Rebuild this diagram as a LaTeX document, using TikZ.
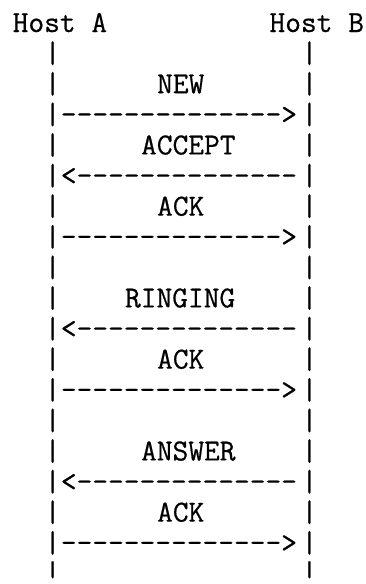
\documentclass[tikz,border=0pt]{standalone}
\usepackage{fontspec}
\newfontfamily\mono{Latin Modern Mono}[FakeBold=0.6]
\newcommand\cx[1]{12.5+16.05*#1}
\newcommand\by[1]{-32-30.6*(#1-1)}
\begin{document}
\begin{tikzpicture}[x=1pt,y=1pt,
  txt/.style={anchor=base west, inner sep=0pt, font=\mono\fontsize{30.57}{30.6}\selectfont}]
\useasboundingbox (0,0) rectangle (366,-584);
% hosts
\node[txt] (hostA) at ({\cx{0}},{\by{1}}) {Host A};
\node[txt] (hostB) at ({\cx{16}},{\by{1}}) {Host B};
% lifelines, one bar per text row, cut to the row's height
\begin{scope}
\clip \foreach \k in {2,...,19} {
  ({\cx{2}-4},{\by{\k}+21.5}) rectangle ({\cx{3}+4},{\by{\k}-2.5})
  ({\cx{18}-4},{\by{\k}+21.5}) rectangle ({\cx{19}+4},{\by{\k}-2.5})
};
\foreach \k in {2,...,18} {
  \node[txt] (pl\k) at ({\cx{2}},{\by{\k}}) {|};
  \node[txt] (pr\k) at ({\cx{18}},{\by{\k}}) {|};
}
\node[txt] (pl19) at ({\cx{2}},{\by{19}+7}) {|};
\node[txt] (pr19) at ({\cx{18}},{\by{19}+7}) {|};
\end{scope}
% messages
\node[txt] (new)   at ({\cx{9}},{\by{3}})  {NEW};
\node[txt] (a1)    at ({\cx{3}},{\by{4}})  {-------------->};
\node[txt] (acc)   at ({\cx{8}},{\by{5}})  {ACCEPT};
\node[txt] (a2)    at ({\cx{3}},{\by{6}})  {<--------------};
\node[txt] (ack1)  at ({\cx{9}},{\by{7}})  {ACK};
\node[txt] (a3)    at ({\cx{3}},{\by{8}})  {-------------->};
\node[txt] (ring)  at ({\cx{7}},{\by{10}}) {RINGING};
\node[txt] (a4)    at ({\cx{3}},{\by{11}}) {<--------------};
\node[txt] (ack2)  at ({\cx{9}},{\by{12}}) {ACK};
\node[txt] (a5)    at ({\cx{3}},{\by{13}}) {-------------->};
\node[txt] (ans)   at ({\cx{8}},{\by{15}}) {ANSWER};
\node[txt] (a6)    at ({\cx{3}},{\by{16}}) {<--------------};
\node[txt] (ack3)  at ({\cx{9}},{\by{17}}) {ACK};
\node[txt] (a7)    at ({\cx{3}},{\by{18}}) {-------------->};
\end{tikzpicture}
\end{document}
